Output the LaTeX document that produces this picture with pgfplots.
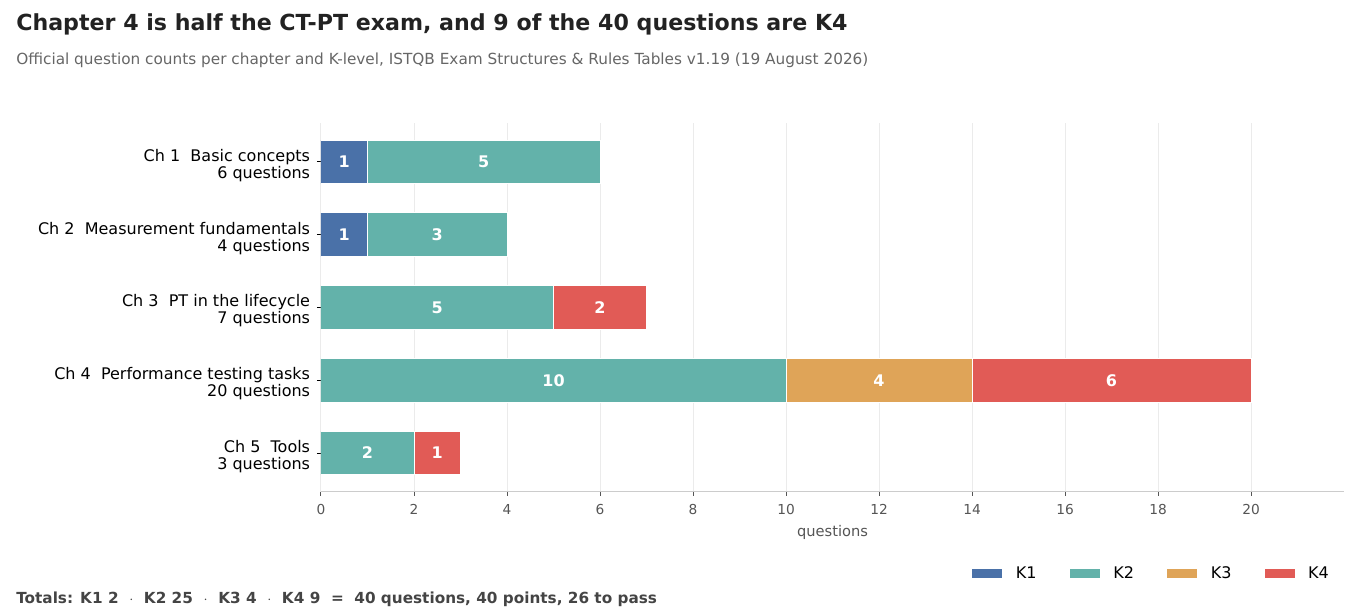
\documentclass[border=0pt]{standalone}
\usepackage{pgfplots}
\pgfplotsset{compat=1.18}
\usepackage{pgfplotstable}
\usepackage{fontspec}
\setmainfont{DejaVu Sans}
\definecolor{Kone}{HTML}{4A71A8}
\definecolor{Ktwo}{HTML}{63B2AA}
\definecolor{Kthree}{HTML}{DFA458}
\definecolor{Kfour}{HTML}{E15B56}
\definecolor{titlec}{HTML}{222222}
\definecolor{subc}{HTML}{666666}
\definecolor{footc}{HTML}{444444}
\definecolor{tickc}{HTML}{555555}
\definecolor{axisc}{HTML}{CCCCCC}
\definecolor{gridc}{HTML}{EBEBEB}

\pgfplotstableread{
pos K1 K2 K3 K4
0 1 5 0 0
1 1 3 0 0
2 0 5 0 2
3 0 10 4 6
4 0 2 0 1
}\chapdata

\begin{document}
\begin{tikzpicture}[x=0.75pt,y=0.75pt]
\path[use as bounding box] (0,0) rectangle (1364,616);
\node[anchor=base west, inner sep=0pt, font=\fontsize{16.6}{19}\selectfont\bfseries, text=titlec] at (16,585) {Chapter 4 is half the CT-PT exam, and 9 of the 40 questions are K4};
\node[anchor=base west, inner sep=0pt, font=\fontsize{11.47}{13}\selectfont, text=subc] at (16,551) {Official question counts per chapter and K-level, ISTQB Exam Structures \& Rules Tables v1.19 (19 August 2026)};
\node[anchor=base west, inner sep=0pt, font=\fontsize{11.45}{13}\selectfont\bfseries, text=footc] at (16,12) {Totals: K1 2\ \ $\cdot$\ \ K2 25\ \ $\cdot$\ \ K3 4\ \ $\cdot$\ \ K4 9\ \ =\ \ 40 questions, 40 points, 26 to pass};
\begin{axis}[
  at={(240.75pt,93pt)}, anchor=south west,
  scale only axis, width=767.25pt, height=276.75pt,
  xmin=0, xmax=22, ymin=-0.536, ymax=4.536, y dir=reverse,
  xbar stacked, bar width=0.6,
  axis x line*=bottom, axis y line*=left,
  x axis line style={draw=axisc, line width=0.75pt, -},
  y axis line style={draw=none},
  xtick={0,2,...,20}, ytick={0,1,2,3,4},
  yticklabels={{Ch 1\ \ Basic concepts\\6 questions},{Ch 2\ \ Measurement fundamentals\\4 questions},{Ch 3\ \ PT in the lifecycle\\7 questions},{Ch 4\ \ Performance testing tasks\\20 questions},{Ch 5\ \ Tools\\3 questions}},
  yticklabel style={align=right, font=\fontsize{12}{12.75}\selectfont, text=black, inner sep=0pt, xshift=-5pt, yshift=-2.6pt},
  xticklabel style={font=\fontsize{10.3}{12}\selectfont, text=tickc, yshift=-3pt},
  /pgf/number format/assume math mode=true,
  tick align=outside, major tick length=3pt,
  x tick style={draw=tickc, line width=0.75pt},
  y tick style={draw=black, line width=0.75pt},
  xmajorgrids, ymajorgrids=false,
  grid style={draw=gridc, line width=0.75pt},
  xlabel={questions}, xlabel style={font=\fontsize{11}{13}\selectfont, text=tickc, yshift=-0.75pt},
  legend columns=4,
  legend style={at={(0.6364,-0.2209)}, anchor=west, draw=none, fill=none, inner sep=0pt,
    font=\fontsize{12}{13}\selectfont,
    /tikz/every odd column/.append style={column sep=8.25pt},
    /tikz/every even column/.append style={column sep=22.8pt}},
  legend image code/.code={\draw[#1, draw=none] (0pt,-3.4pt) rectangle (22.5pt,3.4pt);},
  point meta=explicit,
  nodes near coords={\pgfmathfloatifflags{\pgfplotspointmeta}{0}{}{\pgfmathprintnumber{\pgfplotspointmeta}}},
  nodes near coords style={font=\fontsize{12}{14}\selectfont\bfseries, text=white},
]
\addplot[fill=Kone, draw=white, line width=0.75pt] table[x=K1, y=pos, meta=K1] {\chapdata};
\addlegendentry{K1}
\addplot[fill=Ktwo, draw=white, line width=0.75pt] table[x=K2, y=pos, meta=K2] {\chapdata};
\addlegendentry{K2}
\addplot[fill=Kthree, draw=white, line width=0.75pt] table[x=K3, y=pos, meta=K3] {\chapdata};
\addlegendentry{K3}
\addplot[fill=Kfour, draw=white, line width=0.75pt] table[x=K4, y=pos, meta=K4] {\chapdata};
\addlegendentry{K4}
\end{axis}
\end{tikzpicture}
\end{document}
